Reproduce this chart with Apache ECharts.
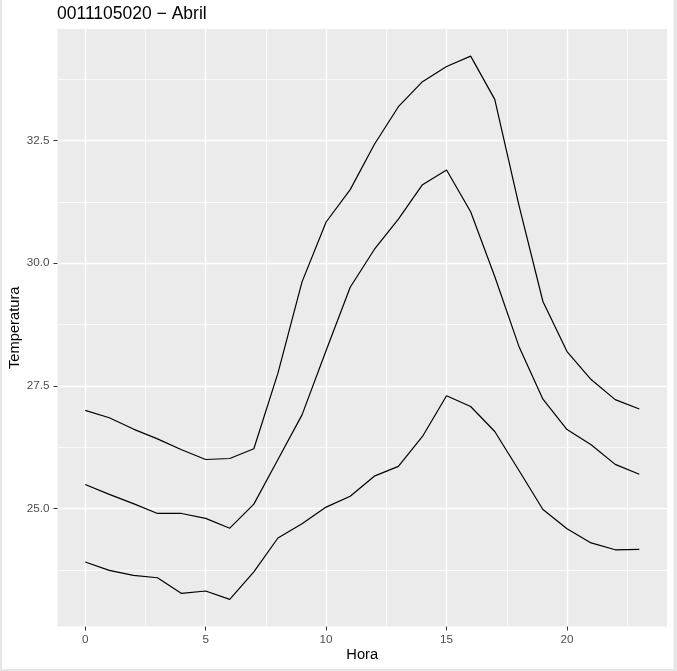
<!DOCTYPE html>
<html>
<head>
<meta charset="utf-8">
<script src="https://cdn.jsdelivr.net/npm/echarts@6/dist/echarts.min.js"></script>
<style>
html,body{margin:0;padding:0;background:#fff;}
#c{width:677px;height:671px;}
</style>
</head>
<body>
<div id="c"></div>
<script>
var hours = [0,1,2,3,4,5,6,7,8,9,10,11,12,13,14,15,16,17,18,19,20,21,22,23];
var tempAlta = [27.0, 26.85, 26.62, 26.42, 26.2, 26.0, 26.02, 26.22, 27.76, 29.62, 30.84, 31.5, 32.42, 33.19, 33.7, 34.01, 34.22, 33.34, 31.19, 29.22, 28.2, 27.63, 27.22, 27.03];
var tempMedia = [25.49, 25.29, 25.1, 24.9, 24.9, 24.8, 24.6, 25.09, 26.0, 26.91, 28.22, 29.51, 30.28, 30.9, 31.6, 31.9, 31.05, 29.73, 28.31, 27.23, 26.61, 26.3, 25.9, 25.7];
var tempBaja = [23.91, 23.74, 23.64, 23.59, 23.27, 23.32, 23.15, 23.71, 24.4, 24.69, 25.03, 25.25, 25.66, 25.86, 26.47, 27.3, 27.08, 26.57, 25.78, 24.98, 24.59, 24.3, 24.16, 24.17];
var xTicks = [0, 5, 10, 15, 20];
var xMinor = [2.5, 7.5, 12.5, 17.5, 22.5];
var yTicks = [25, 27.5, 30, 32.5];
var yMinor = [23.75, 26.25, 28.75, 31.25, 33.75];

function pair(vals){ return hours.map(function(h,i){ return [h, vals[i]]; }); }
var all = tempAlta.concat(tempMedia, tempBaja);
var yLo = Math.min.apply(null, all), yHi = Math.max.apply(null, all);
var yPad = (yHi - yLo) * 0.05;
var xLo = hours[0], xHi = hours[hours.length-1], xPad = (xHi - xLo) * 0.05;

var FONT = 'Liberation Sans, Arial, Helvetica, sans-serif';
var chart = echarts.init(document.getElementById('c'), null, {renderer:'canvas'});

function lineSeries(vals){
  return {type:'line', data: pair(vals), showSymbol:false, symbol:'none',
    lineStyle:{color:'#000', width:1.2}, itemStyle:{color:'#000'}, z:5, silent:true};
}

chart.setOption({
  animation:false,
  backgroundColor:'#ffffff',
  title:{text:'0011105020 \u2212 Abril', left:57, top:5.5, padding:0,
    textStyle:{fontFamily:FONT, fontSize:17.5, fontWeight:'normal', color:'#000'}},
  grid:{left:57.5, right:10, top:29, bottom:44.5, show:true, backgroundColor:'#EBEBEB', borderWidth:0,
    containLabel:false, outerBoundsMode:'none'},
  xAxis:[{
    type:'value', min:xLo - xPad, max:xHi + xPad,
    name:'Hora', nameLocation:'middle', nameGap:21, nameMoveOverlap:false,
    nameTextStyle:{fontFamily:FONT, fontSize:14.7, color:'#000'},
    axisLine:{show:false, onZero:false},
    axisTick:{show:true, length:4, customValues:xTicks, lineStyle:{color:'#333333', width:1}},
    axisLabel:{customValues:xTicks, margin:7, fontFamily:FONT, fontSize:11.7, color:'#4D4D4D'},
    splitLine:{show:true, lineStyle:{color:'#ffffff', width:1.4}}
  },{
    type:'value', min:xLo - xPad, max:xHi + xPad, position:'bottom',
    axisLine:{show:false, onZero:false},
    axisTick:{show:false, customValues:xMinor},
    axisLabel:{show:false, customValues:xMinor},
    splitLine:{show:true, lineStyle:{color:'#ffffff', width:0.7}}
  }],
  yAxis:[{
    type:'value', min:yLo - yPad, max:yHi + yPad,
    name:'Temperatura', nameLocation:'middle', nameGap:35.5, nameMoveOverlap:false,
    nameTextStyle:{fontFamily:FONT, fontSize:14.7, color:'#000'},
    axisLine:{show:false, onZero:false},
    axisTick:{show:true, length:4, customValues:yTicks, lineStyle:{color:'#333333', width:1}},
    axisLabel:{customValues:yTicks, margin:8, fontFamily:FONT, fontSize:11.7, color:'#4D4D4D',
      formatter:function(v){ return Number(v).toFixed(1); }},
    splitLine:{show:true, lineStyle:{color:'#ffffff', width:1.4}}
  },{
    type:'value', min:yLo - yPad, max:yHi + yPad, position:'left',
    axisLine:{show:false, onZero:false},
    axisTick:{show:false, customValues:yMinor},
    axisLabel:{show:false, customValues:yMinor},
    splitLine:{show:true, lineStyle:{color:'#ffffff', width:0.7}}
  }],
  graphic:[
    {type:'rect', left:0, top:0, shape:{width:2, height:671}, style:{fill:'#E6E6E6'}, silent:true},
    {type:'rect', right:0, top:0, shape:{width:3.5, height:671}, style:{fill:'#E6E6E6'}, silent:true},
    {type:'rect', left:0, bottom:0, shape:{width:677, height:2}, style:{fill:'#E6E6E6'}, silent:true}
  ],
  series:[lineSeries(tempAlta), lineSeries(tempMedia), lineSeries(tempBaja)]
});
</script>
</body>
</html>
